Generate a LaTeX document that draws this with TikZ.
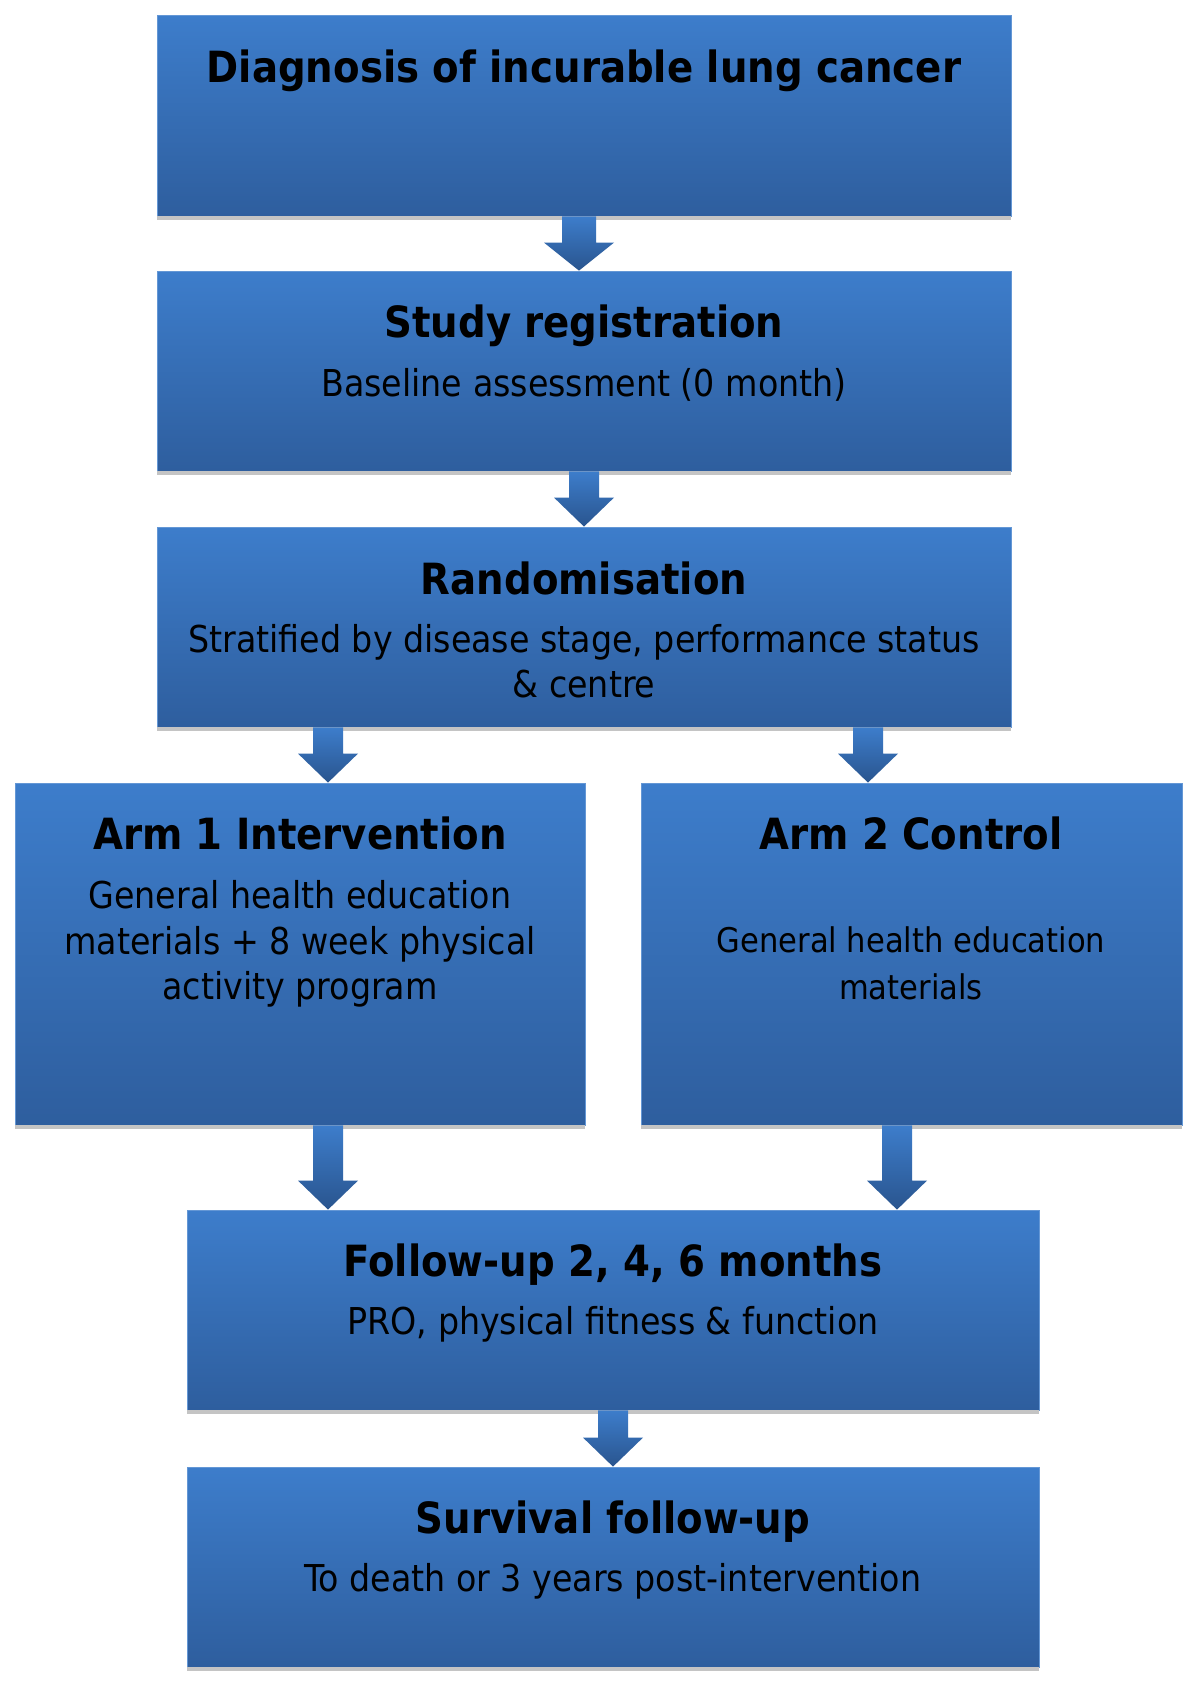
\documentclass[tikz,border=0pt]{standalone}
\usepackage{fontspec}
\setmainfont{DejaVu Sans Condensed}
\usetikzlibrary{calc}
\definecolor{boxtop}{HTML}{3D7DCB}
\definecolor{boxbot}{HTML}{2E5E9E}
\definecolor{shad}{HTML}{C4C4C4}
\tikzset{
  box/.style={draw=boxtop!80!white, line width=0.8pt, top color=boxtop, bottom color=boxbot, inner sep=0pt},
  ttl/.style={font=\fontsize{43}{48}\selectfont\bfseries, text height=0.73em, text depth=0pt, inner sep=0pt},
  txt/.style={font=\fontsize{37}{44}\selectfont, text height=0.73em, text depth=0pt, inner sep=0pt},
  txtsmall/.style={font=\fontsize{34}{44}\selectfont, text height=0.73em, text depth=0pt, inner sep=0pt},
  arr/.style={top color=boxtop, bottom color=boxbot!90!black, draw=none},
}
% #1 source, #2 target, #3 x, #4 half shaft, #5 half head, #6 head height
\newcommand{\blockarrow}[6]{%
  \path[arr] let \p1=(#1.south), \p2=(#2.north) in
    ({#3pt-#4pt},\y1) -- ({#3pt+#4pt},\y1) -- ({#3pt+#4pt},{\y2+#6pt}) -- ({#3pt+#5pt},{\y2+#6pt})
    -- ({#3pt},\y2) -- ({#3pt-#5pt},{\y2+#6pt}) -- ({#3pt-#4pt},{\y2+#6pt}) -- cycle;}
\newcommand{\boxshadow}[1]{%
  \fill[shad] ($(#1.south west)+(0,0)$) rectangle ($(#1.south east)+(0,4)$);}
\begin{document}
\begin{tikzpicture}[x=1pt,y=-1pt]
\useasboundingbox[fill=white] (0,0) rectangle (1200,1701);
% boxes
\node[box, minimum width=854pt, minimum height=201pt] (b1) at (584,115.5) {};
\node[box, minimum width=854pt, minimum height=200pt] (b2) at (584,371) {};
\node[box, minimum width=854pt, minimum height=200pt] (b3) at (584,627) {};
\node[box, minimum width=570pt, minimum height=342pt] (b4) at (300,954) {};
\node[box, minimum width=541pt, minimum height=342pt] (b5) at (911.5,954) {};
\node[box, minimum width=852pt, minimum height=200pt] (b6) at (613,1310) {};
\node[box, minimum width=852pt, minimum height=200pt] (b7) at (613,1567) {};
\foreach \b in {b1,b2,b3,b4,b5,b6,b7} {\boxshadow{\b}}
% arrows
\blockarrow{b1}{b2}{579}{17}{35}{28}
\blockarrow{b2}{b3}{584}{15}{30}{29}
\blockarrow{b3}{b4}{328}{15}{30}{29}
\blockarrow{b3}{b5}{868}{15}{30}{29}
\blockarrow{b4}{b6}{328}{15}{30}{29}
\blockarrow{b5}{b6}{897}{15}{30}{29}
\blockarrow{b6}{b7}{613}{15}{30}{29}
% texts
\node[ttl] (t1) at (584,79) {Diagnosis of incurable lung cancer};
\node[ttl] (t2) at (584,334) {Study registration};
\node[txt] (s2) at (584,393) {Baseline assessment (0 month)};
\node[ttl] (t3) at (584,591) {Randomisation};
\node[txt] (s3a) at (584,649) {Stratified by disease stage, performance status};
\node[txt] (s3b) at (584,694) {\& centre};
\node[ttl] (t4) at (300,846) {Arm 1 Intervention};
\node[txt] (s4a) at (300,905) {General health education};
\node[txt] (s4b) at (300,951) {materials + 8 week physical};
\node[txt] (s4c) at (300,996) {activity program};
\node[ttl] (t5) at (911,846) {Arm 2 Control};
\node[txtsmall] (s5a) at (911,949) {General health education};
\node[txtsmall] (s5b) at (911,996) {materials};
\node[ttl] (t6) at (613,1273) {Follow-up 2, 4, 6 months};
\node[txt] (s6) at (613,1331) {PRO, physical fitness \& function};
\node[ttl] (t7) at (613,1530) {Survival follow-up};
\node[txt] (s7) at (613,1588) {To death or 3 years post-intervention};
\end{tikzpicture}
\end{document}
